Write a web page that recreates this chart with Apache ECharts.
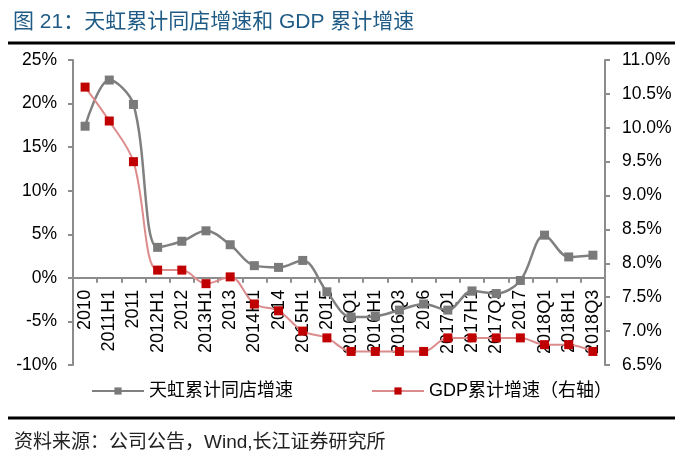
<!DOCTYPE html>
<html>
<head>
<meta charset="utf-8">
<script src="https://cdn.jsdelivr.net/npm/echarts@6/dist/echarts.min.js"></script>
<style>
html,body{margin:0;padding:0;background:#fff;}
#c{width:682px;height:458px;}
</style>
</head>
<body>
<div id="c"></div>
<script>
var categories = ['2010','2011H1','2011','2012H1','2012','2013H1','2013','2014H1','2014','2015H1','2015','2016Q1','2016H1','2016Q3','2016','2017Q1','2017H1','2017Q3','2017','2018Q1','2018H1','2018Q3'];
var sameStoreGrowth = [17.4,22.7,19.9,3.5,4.2,5.4,3.8,1.4,1.2,2.0,-1.6,-4.5,-4.4,-3.7,-3.0,-3.7,-1.5,-1.8,-0.3,4.9,2.4,2.6];
var gdpGrowth = [10.6,10.1,9.5,7.9,7.9,7.7,7.8,7.4,7.3,7.0,6.9,6.7,6.7,6.7,6.7,6.9,6.9,6.9,6.9,6.8,6.8,6.7];
var seriesNames = ['天虹累计同店增速','GDP累计增速（右轴）'];
var titleText = '图 21：天虹累计同店增速和 GDP 累计增速';
var sourceText = '资料来源：公司公告，Wind,长江证券研究所';

var FONT = '"Liberation Sans", Arial, "Noto Sans CJK SC", sans-serif';
var GRID = {left: 73, right: 77, top: 60, bottom: 93};
var chart = echarts.init(document.getElementById('c'));
chart.setOption({
  animation: false,
  backgroundColor: '#fff',
  title: [
    {text: titleText, left: 8, top: 7, textStyle: {fontSize: 21, fontWeight: 'normal', color: '#1f5b85', fontFamily: FONT}},
    {text: sourceText, left: 9, top: 428, textStyle: {fontSize: 19, fontWeight: 'normal', color: '#222', fontFamily: FONT}}
  ],
  graphic: [
    {type: 'line', shape: {x1: 8, y1: 43, x2: 675, y2: 43}, style: {stroke: '#000', lineWidth: 3}},
    {type: 'line', shape: {x1: 8, y1: 418, x2: 675, y2: 418}, style: {stroke: '#000', lineWidth: 3}}
  ],
  legend: [
    {data: [seriesNames[0]], left: 86, top: 377, itemWidth: 52, itemHeight: 9, itemGap: 8,
     textStyle: {fontSize: 18, color: '#000', fontFamily: FONT}},
    {data: [seriesNames[1]], left: 366, top: 377, itemWidth: 52, itemHeight: 9, itemGap: 8,
     textStyle: {fontSize: 18, color: '#000', fontFamily: FONT}}
  ],
  grid: {left: GRID.left, right: GRID.right, top: GRID.top, bottom: GRID.bottom, containLabel: false},
  xAxis: {
    type: 'category',
    data: categories,
    boundaryGap: true,
    position: 'bottom',
    offset: 0,
    axisLine: {onZero: false, lineStyle: {color: '#8c8c8c', width: 2}},
    axisTick: {show: true, length: 5, lineStyle: {color: '#8c8c8c', width: 2}},
    axisLabel: {rotate: 90, fontSize: 18, color: '#000', margin: 12, fontFamily: FONT, interval: 0},
    splitLine: {show: false}
  },
  yAxis: [
    {
      type: 'value', min: -10, max: 25, interval: 5,
      axisLine: {show: true, onZero: false, lineStyle: {color: '#8c8c8c', width: 2}},
      axisTick: {show: true, length: 5, lineStyle: {color: '#8c8c8c', width: 2}},
      axisLabel: {formatter: '{value}%', fontSize: 17.5, color: '#000', margin: 16, fontFamily: FONT},
      splitLine: {show: false}
    },
    {
      type: 'value', min: 6.5, max: 11, interval: 0.5, position: 'right',
      axisLine: {show: true, onZero: false, lineStyle: {color: '#8c8c8c', width: 2}},
      axisTick: {show: true, length: 5, lineStyle: {color: '#8c8c8c', width: 2}},
      axisLabel: {formatter: function (v) { return v.toFixed(1) + '%'; }, fontSize: 17.5, color: '#000', margin: 17, fontFamily: FONT},
      splitLine: {show: false}
    }
  ],
  series: [
    {
      name: seriesNames[0], type: 'line', yAxisIndex: 0, data: sameStoreGrowth,
      smooth: 0.35, symbol: 'rect', symbolSize: 9,
      lineStyle: {color: '#808080', width: 2.5},
      itemStyle: {color: '#7a7a7a'}
    },
    {
      name: seriesNames[1], type: 'line', yAxisIndex: 1, data: gdpGrowth,
      smooth: 0.35, symbol: 'rect', symbolSize: 9,
      lineStyle: {color: '#dc8c8c', width: 2},
      itemStyle: {color: '#c00000'}
    }
  ]
});
// Move the category axis so it sits on the left axis' zero line.
var zeroY = chart.convertToPixel({yAxisIndex: 0}, 0);
var gridBottomY = 458 - GRID.bottom;
chart.setOption({xAxis: {offset: zeroY - gridBottomY}});
</script>
</body>
</html>
